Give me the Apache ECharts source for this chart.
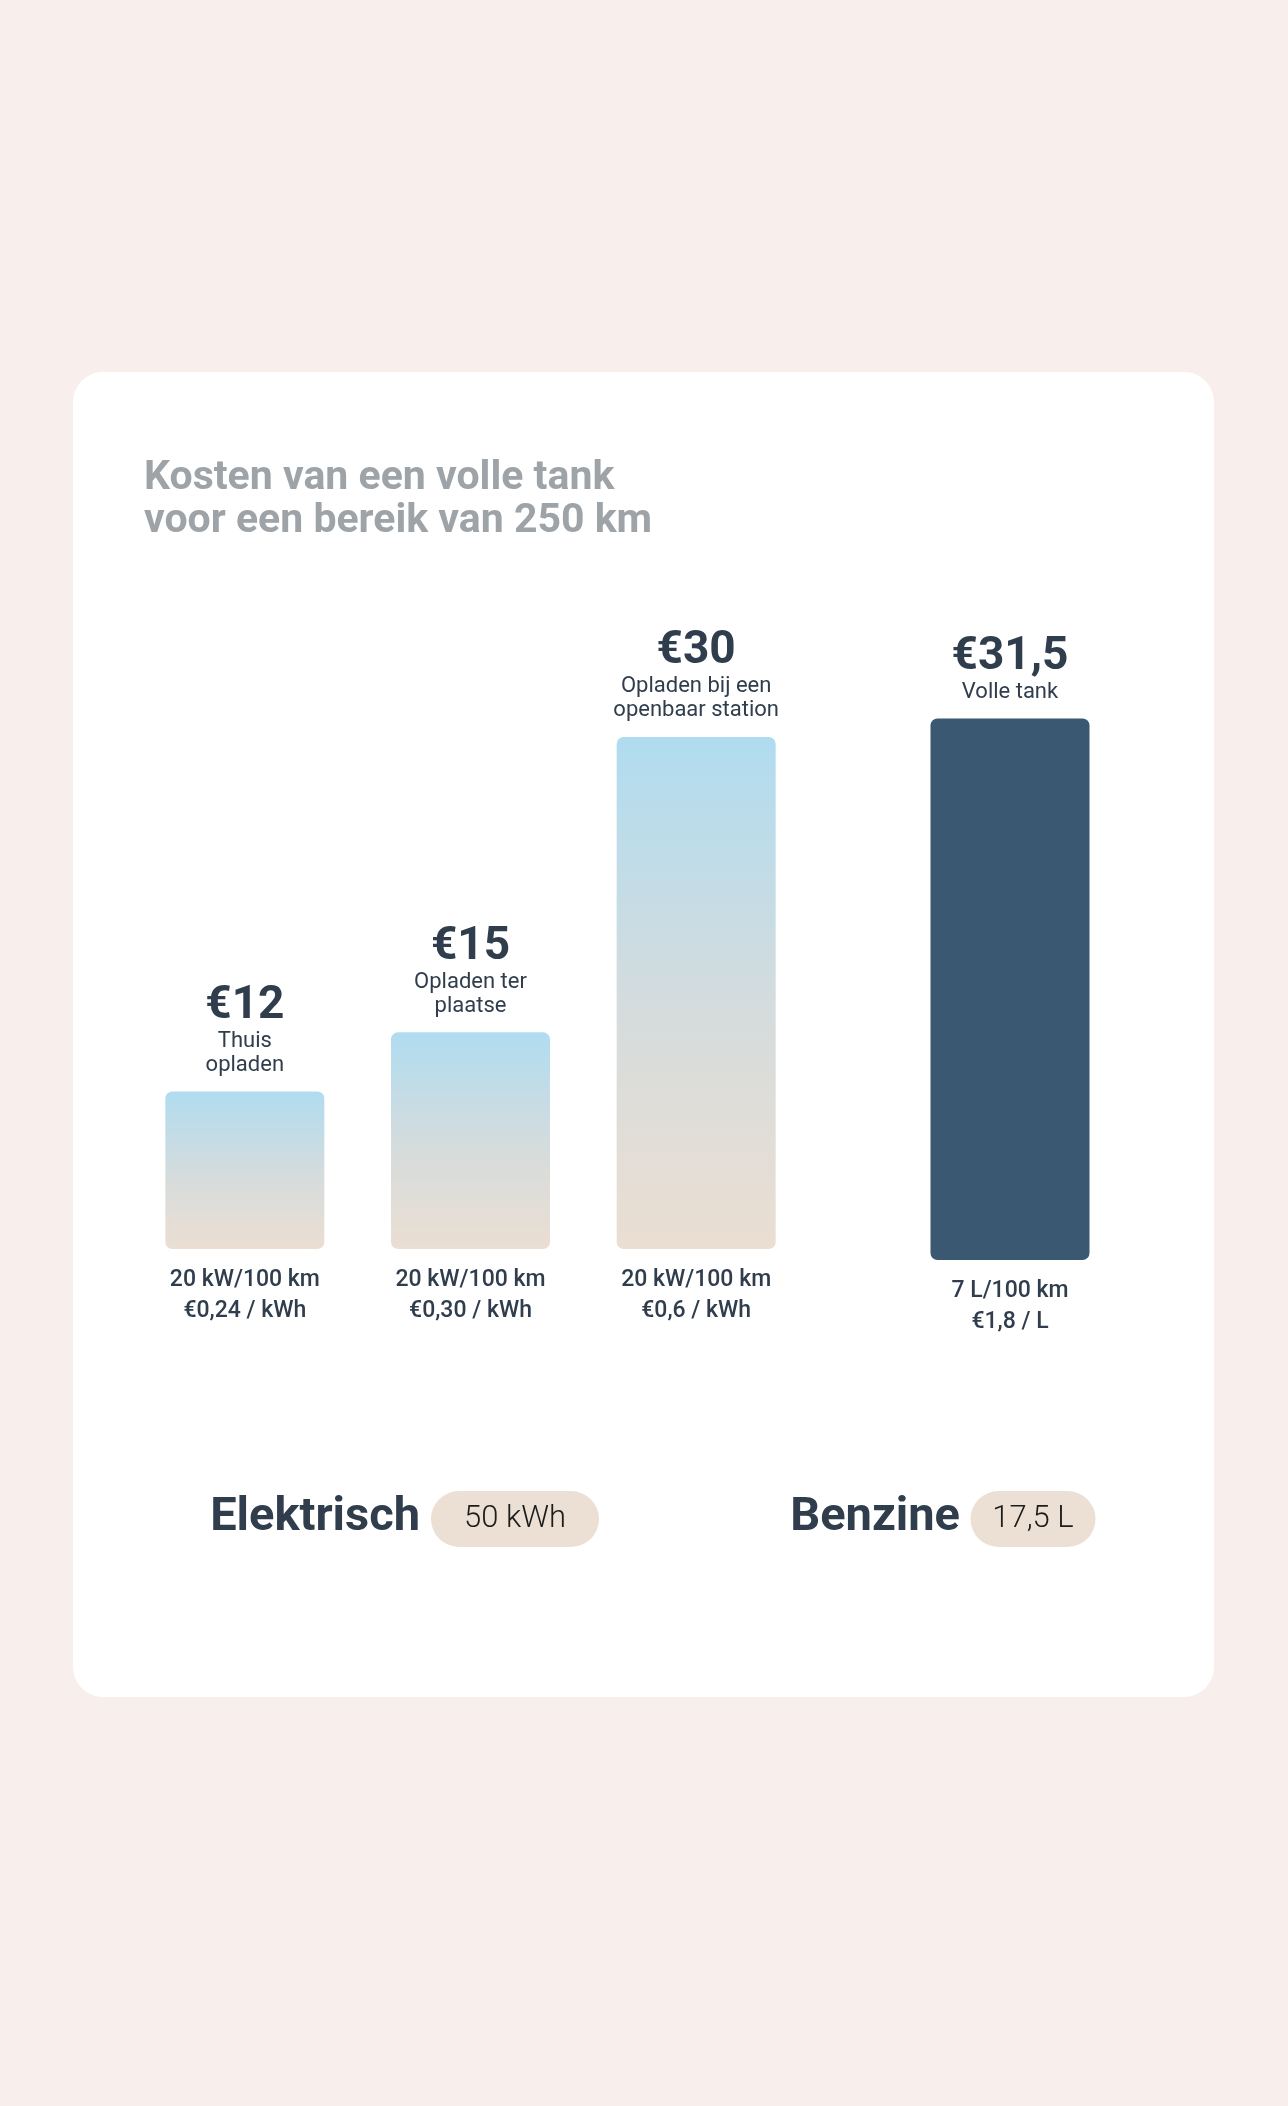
<!DOCTYPE html>
<html>
<head>
<meta charset="utf-8">
<script src="https://cdn.jsdelivr.net/npm/echarts@6/dist/echarts.min.js"></script>
<style>
  html, body { margin: 0; padding: 0; background: #f8eeeb; }
  #main { width: 1288px; height: 2106px; }
</style>
</head>
<body>
<div id="main"></div>
<script>
// elektrisch
const elecLabels = ['Thuis\nopladen', 'Opladen ter\nplaatse', 'Opladen bij een\nopenbaar station'];
const elecCosts = [12, 15, 30];
const elecUsage = ['20 kW/100 km', '20 kW/100 km', '20 kW/100 km'];
const elecPrices = ['€0,24 / kWh', '€0,30 / kWh', '€0,6 / kWh'];

// benzine
const fuelLabels = ['Volle tank'];
const fuelCosts = [31.5];
const fuelUsage = ['7 L/100 km'];
const fuelPrices = ['€1,8 / L'];

const groupNames = ['Elektrisch', 'Benzine'];
const groupCapacity = ['50 kWh', '17,5 L'];

const dark = '#2f3d4c';
const font = 'Roboto';

const euro = v => '€' + String(v).replace('.', ',');

function barLabel(labels) {
  return {
    show: true,
    position: 'top',
    distance: 14,
    formatter: p => '{v|' + euro(p.value) + '}\n' +
      labels[p.dataIndex].split('\n').map(l => '{s|' + l + '}').join('\n'),
    rich: {
      v: { fontFamily: font, fontWeight: 'bold', fontSize: 46, lineHeight: 46, color: dark },
      s: { fontFamily: font, fontSize: 22, lineHeight: 24, color: dark }
    }
  };
}

function xAxisFor(gridIndex, usage, prices) {
  return {
    type: 'category',
    gridIndex,
    data: usage.map((u, i) => u + '\n' + prices[i]),
    axisLine: { show: false },
    axisTick: { show: false },
    axisLabel: {
      margin: 16,
      fontFamily: font,
      fontWeight: 500,
      fontSize: 23,
      lineHeight: 31,
      color: dark
    }
  };
}

const yAxisBase = { type: 'value', min: 4, max: 40, show: false };

const gradient = new echarts.graphic.LinearGradient(0, 0, 0, 1, [
  { offset: 0, color: '#b0dcf0' },
  { offset: 0.55, color: '#d6dcdc' },
  { offset: 1, color: '#ebded2' }
]);

function pill(cx, cy, w, text) {
  return {
    type: 'group',
    children: [
      { type: 'rect', shape: { x: cx - w / 2, y: cy - 28, width: w, height: 56, r: 28 }, style: { fill: '#ecdfd3' } },
      { type: 'text', x: cx, y: cy, style: { text, fill: '#1c1c1c', font: '300 31px Roboto', textAlign: 'center', textVerticalAlign: 'middle' } }
    ]
  };
}

const option = {
  backgroundColor: '#f8eeeb',
  animation: false,
  title: {
    text: 'Kosten van een volle tank\nvoor een bereik van 250 km',
    left: 144,
    top: 457,
    padding: 0,
    textStyle: { fontFamily: font, fontWeight: 'bold', fontSize: 41, lineHeight: 43, color: '#9ea3a8' }
  },
  graphic: [
    { type: 'rect', z: -10, shape: { x: 73, y: 372, width: 1141, height: 1325, r: 30 }, style: { fill: '#ffffff' } },
    { type: 'text', x: 420, y: 1518, style: { text: groupNames[0], fill: dark, font: 'bold 47px Roboto', textAlign: 'right', textVerticalAlign: 'middle' } },
    pill(515, 1519, 168, groupCapacity[0]),
    { type: 'text', x: 960, y: 1518, style: { text: groupNames[1], fill: dark, font: 'bold 47px Roboto', textAlign: 'right', textVerticalAlign: 'middle' } },
    pill(1033, 1519, 125, groupCapacity[1])
  ],
  grid: [
    { left: 132, width: 677, top: 540, height: 709 },
    { left: 897, width: 226, top: 551, height: 709 }
  ],
  xAxis: [
    xAxisFor(0, elecUsage, elecPrices),
    xAxisFor(1, fuelUsage, fuelPrices)
  ],
  yAxis: [
    Object.assign({ gridIndex: 0 }, yAxisBase),
    Object.assign({ gridIndex: 1 }, yAxisBase)
  ],
  series: [
    {
      name: groupNames[0],
      type: 'bar',
      xAxisIndex: 0,
      yAxisIndex: 0,
      data: elecCosts,
      barWidth: 159,
      itemStyle: { color: gradient, borderRadius: 7 },
      label: barLabel(elecLabels)
    },
    {
      name: groupNames[1],
      type: 'bar',
      xAxisIndex: 1,
      yAxisIndex: 1,
      data: fuelCosts,
      barWidth: 159,
      itemStyle: { color: '#3b5873', borderRadius: 7 },
      label: barLabel(fuelLabels)
    }
  ]
};

const myChart = echarts.init(document.getElementById('main'));
myChart.setOption(option);
</script>
</body>
</html>
